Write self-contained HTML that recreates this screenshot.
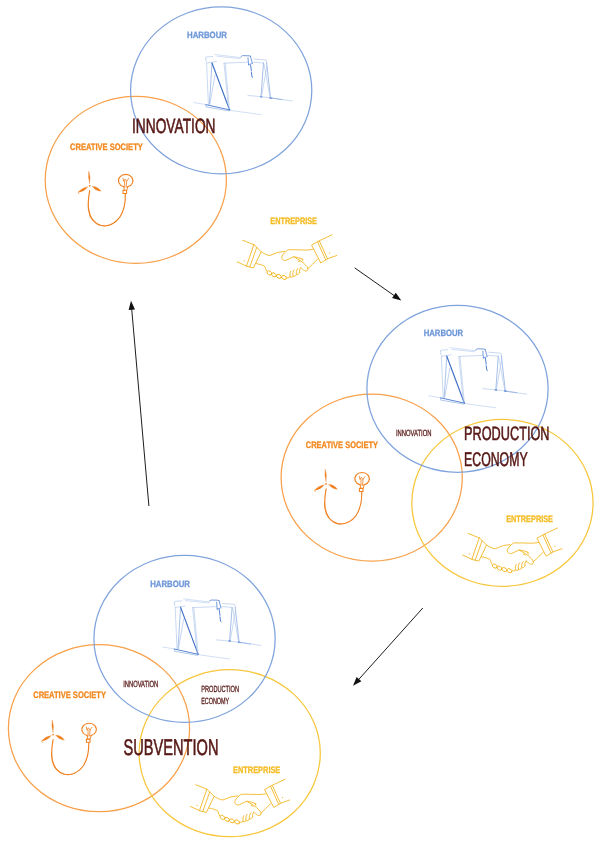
<!DOCTYPE html>
<html><head><meta charset="utf-8"><title>Diagram</title>
<style>
html,body{margin:0;padding:0;background:#fff;}
body{width:600px;height:845px;overflow:hidden;}
svg{display:block;font-family:"Liberation Sans",sans-serif;text-rendering:geometricPrecision;}
</style></head><body>
<svg width="600" height="845" viewBox="0 0 600 845">
<rect width="600" height="845" fill="#ffffff"/>
<defs>
<filter id="nof" x="0" y="0" width="600" height="845" filterUnits="userSpaceOnUse"><feOffset dx="0" dy="0"/></filter>
<g id="crane" fill="none" stroke="#a6bfea" stroke-width="0.6" stroke-linecap="round" stroke-linejoin="round">
<path d="M15.6,13.2 Q15.2,12 17,11.9 L23,11.5 M15.6,13.2 L16.2,16.5 M16.8,18 L26.5,16.6"/>
<path d="M25,9.5 L51,12.6 M27,11.2 L50,13.6" stroke="#b4c9ee"/>
<path d="M34,18.2 L57.5,17.2 M63,17.2 L73.5,18 M64,14 L76,15 L77,18"/>
<path d="M51,11.6 L52.6,10.6 L59,10.8 L60.4,11.2 M58,12.8 L58.6,20 M60.4,11.2 L62.4,18.6 M58.6,19.6 L61.4,18.8" stroke="#5f8ad4" stroke-width="0.85"/>
<path d="M60.6,20 L61.4,26 M61.4,27.4 L62,32 L62.6,32.4" stroke="#4a7bcf" stroke-width="0.95"/>
<path d="M16.6,18 L18.4,59.4"/>
<path d="M22,18 L19.4,59.2" stroke="#86a8e1" stroke-width="0.7"/>
<path d="M25,30 L19.9,59" stroke="#9ab7e7"/>
<path d="M22,18 L39.6,65" stroke="#3f6fc6" stroke-width="1.15"/>
<path d="M34,18.2 L38.6,64.4 M35.2,18.2 L39.4,63.6"/>
<path d="M15.6,59.6 L40,65" stroke="#4f7fd0" stroke-width="0.95"/>
<path d="M15.6,59.6 L16,61.9 L39,65.9" stroke="#7fa3de"/>
<path d="M4,57.6 L15,59.4 M40.4,65.4 L71,69.6" stroke="#b4c9ee"/>
<path d="M73.5,18 L71,51.5 M76.6,18 L80.5,52.6" stroke="#7fa3de" stroke-width="0.7"/>
<path d="M74,19 L80,52 M77,21 L71.6,51" stroke="#a6bfea"/>
<path d="M70.4,51.6 L71.8,51.8 M79.8,52.8 L81.6,53.2" stroke="#4a7bcf" stroke-width="1.3"/>
<path d="M58,50.5 L71,51.6 L80.5,52.8 L102,56" stroke="#a9c1ea"/>
<path d="M80.5,52.9 L92,54.6" stroke="#86a8e1" stroke-width="0.7"/>
</g>
<g id="turb" fill="none" stroke="#f07f1e" stroke-width="1.15" stroke-linecap="round" stroke-linejoin="round">
<path d="M19.6,23 Q17.8,17 18.8,11 Q20.9,17 19.6,23 Z" fill="#f07f1e" stroke-width="0.35"/>
<path d="M17.5,26.7 Q12.2,27.3 8.1,32 Q14.4,31.3 17.5,26.7 Z" fill="#f07f1e" stroke-width="0.35"/>
<path d="M8.1,32 L9.2,33.6" stroke-width="0.5"/>
<path d="M22.5,26.3 Q27.7,26.2 31,31 Q25.1,30.5 22.5,26.3 Z" fill="#f07f1e" stroke-width="0.35"/>
<circle cx="19.7" cy="25.6" r="0.85" fill="#f07f1e" stroke="none"/>
<path d="M19.7,30.5 C18.7,36 17.8,43 18.5,49.5 C19.5,57 23.5,63 31,65.3 C38.5,67 45.5,63 49.8,57 C53.6,51 55.6,43 55.3,34" stroke="#f0801f" stroke-width="1.15"/>
<path d="M18.3,44 C18.6,52 21,60 28,64.4 C35,67.4 43,64.6 48,59" stroke-width="0.6"/>
<path d="M53.8,26.6 A7.2,6.3 0 1 1 57.6,26.6" stroke-width="1.1"/>
<path d="M53.8,26.6 L54.3,29.8 M57.6,26.6 L57,29.8" stroke-width="0.9"/>
<rect x="53" y="30.1" width="3.6" height="3.2" stroke-width="1.05"/>
<path d="M53,18 L53.6,21.2 L55,18.8 L56.6,21.2 L58.6,18.2" stroke-width="0.8"/>
<path d="M54.6,21.2 L54.7,27 M56.6,21.2 L56.2,27" stroke-width="0.8"/>
</g>
<g id="hand"><g transform="translate(4,27) scale(0.18333)" fill="none" stroke="#f2b520" stroke-width="4.8" stroke-linecap="round" stroke-linejoin="round">
<path d="M48,45 L110,70"/>
<path d="M18,163 L70,187"/>
<path d="M110,70 L148,108 L106,196 L70,187 Z"/>
<path d="M124,84 L86,191"/>
<circle cx="55" cy="157" r="3.4" fill="#f2b520" stroke="none"/>
<path d="M148,108 C165,118 180,128 196,128 C212,124 224,114 240,111 C255,108 265,108 276,106"/>
<path d="M120,172 C140,176 155,180 166,186 C173,194 170,204 178,214"/>
<ellipse cx="193" cy="223" rx="14" ry="10" transform="rotate(30 193 223)"/>
<ellipse cx="218" cy="234" rx="14" ry="10" transform="rotate(30 218 234)"/>
<ellipse cx="245" cy="242" rx="14" ry="10" transform="rotate(30 245 242)"/>
<ellipse cx="273" cy="248" rx="14" ry="10" transform="rotate(30 273 248)"/>
<path d="M287,246 c6,6 14,6 19,-2"/>
<path d="M306,244 c-2,-10 -2,-22 4,-30 M322,240 c-2,-12 -2,-24 6,-34 M340,232 c-2,-12 0,-24 8,-34 M358,220 c-2,-10 0,-18 6,-26"/>
<path d="M306,244 c6,6 14,4 16,-4 c6,4 14,0 18,-8 c6,2 14,-2 18,-12"/>
<path d="M432,94 C410,98 395,99 380,98 C350,97 320,96 295,97 C280,108 268,120 262,132 C258,146 268,157 284,155 C298,150 310,140 326,135 C345,138 360,142 376,148"/>
<path d="M326,135 C350,150 375,162 392,182 C401,192 408,200 400,211 C390,218 378,206 364,196"/>
<path d="M350,158 l10,4 M372,150 l4,8"/>
<path d="M402,200 C420,186 438,166 456,148"/>
<path d="M425,70 L465,48 L510,146 L475,168 Z"/>
<path d="M456,54 L500,152"/>
<path d="M465,48 L535,15"/>
<path d="M510,146 L560,128"/>
<circle cx="521" cy="115" r="3.4" fill="#f2b520" stroke="none"/>
</g></g>
</defs>
<ellipse cx="135.8" cy="179.9" rx="90.6" ry="83.5" fill="none" stroke="#f8a04a" stroke-width="1.25"/>
<ellipse cx="221.2" cy="90.4" rx="90.6" ry="83.5" fill="none" stroke="#7fa3dc" stroke-width="1.25"/>
<ellipse cx="371.7" cy="477.6" rx="90.6" ry="83.5" fill="none" stroke="#f8a04a" stroke-width="1.25"/>
<ellipse cx="502.45" cy="502.9" rx="90.6" ry="83.5" fill="none" stroke="#f7c63a" stroke-width="1.25"/>
<ellipse cx="457.5" cy="388.75" rx="90.6" ry="83.5" fill="none" stroke="#7fa3dc" stroke-width="1.25"/>
<ellipse cx="99.0" cy="728.2" rx="90.6" ry="83.5" fill="none" stroke="#f8a04a" stroke-width="1.25"/>
<ellipse cx="229.7" cy="753.2" rx="90.6" ry="83.5" fill="none" stroke="#f7c63a" stroke-width="1.25"/>
<ellipse cx="184.55" cy="638.85" rx="90.6" ry="83.5" fill="none" stroke="#7fa3dc" stroke-width="1.25"/>
<use href="#crane" x="190.0" y="45.0"/>
<use href="#crane" x="424.8" y="338.2"/>
<use href="#crane" x="158.6" y="589.4"/>
<use href="#turb" x="70.0" y="160.2"/>
<use href="#turb" x="306.4" y="458.3"/>
<use href="#turb" x="33.4" y="709.0"/>
<use href="#hand" x="230.0" y="205.0"/>
<use href="#hand" x="455.4" y="498.2"/>
<use href="#hand" x="183.0" y="749.5"/>
<line x1="354.7" y1="267.9" x2="395.6" y2="296.6" stroke="#111" stroke-width="0.95"/><polygon points="401.3,300.6 392.1,298.0 395.8,292.8" fill="#111"/>
<line x1="148.9" y1="506.0" x2="131.6" y2="307.8" stroke="#111" stroke-width="0.95"/><polygon points="131.0,300.8 135.0,309.5 128.6,310.0" fill="#111"/>
<line x1="422.8" y1="608.0" x2="357.7" y2="680.6" stroke="#111" stroke-width="0.95"/><polygon points="353.0,685.8 356.6,677.0 361.4,681.2" fill="#111"/>
<g filter="url(#nof)">
<text x="187" y="38" font-size="9.16" font-weight="bold" fill="#6e97d8" stroke="#6e97d8" stroke-width="0.3" textLength="40.0" lengthAdjust="spacingAndGlyphs">HARBOUR</text>
<text x="132" y="132.5" font-size="20.64" font-weight="normal" fill="#561815" stroke="#561815" stroke-width="0.6" textLength="83.5" lengthAdjust="spacingAndGlyphs">INNOVATION</text>
<text x="70" y="150" font-size="9.30" font-weight="bold" fill="#f28a22" stroke="#f28a22" stroke-width="0.3" textLength="72.8" lengthAdjust="spacingAndGlyphs">CREATIVE SOCIETY</text>
<text x="270.3" y="224" font-size="9.30" font-weight="bold" fill="#f4bb22" stroke="#f4bb22" stroke-width="0.3" textLength="46.7" lengthAdjust="spacingAndGlyphs">ENTREPRISE</text>
<text x="423.7" y="335.7" font-size="9.16" font-weight="bold" fill="#6e97d8" stroke="#6e97d8" stroke-width="0.3" textLength="39.4" lengthAdjust="spacingAndGlyphs">HARBOUR</text>
<text x="305.8" y="448" font-size="9.30" font-weight="bold" fill="#f28a22" stroke="#f28a22" stroke-width="0.3" textLength="72.2" lengthAdjust="spacingAndGlyphs">CREATIVE SOCIETY</text>
<text x="396" y="435.8" font-size="9.01" font-weight="normal" fill="#561815" stroke="#561815" stroke-width="0.3" textLength="35.5" lengthAdjust="spacingAndGlyphs">INNOVATION</text>
<text x="464.1" y="440.4" font-size="19.33" font-weight="normal" fill="#561815" stroke="#561815" stroke-width="0.6" textLength="85.4" lengthAdjust="spacingAndGlyphs">PRODUCTION</text>
<text x="464.1" y="466.3" font-size="19.77" font-weight="normal" fill="#561815" stroke="#561815" stroke-width="0.6" textLength="63.5" lengthAdjust="spacingAndGlyphs">ECONOMY</text>
<text x="506.2" y="521.9" font-size="9.30" font-weight="bold" fill="#f4bb22" stroke="#f4bb22" stroke-width="0.3" textLength="46.8" lengthAdjust="spacingAndGlyphs">ENTREPRISE</text>
<text x="150.2" y="586.5" font-size="9.16" font-weight="bold" fill="#6e97d8" stroke="#6e97d8" stroke-width="0.3" textLength="39.8" lengthAdjust="spacingAndGlyphs">HARBOUR</text>
<text x="33.2" y="698.3" font-size="9.30" font-weight="bold" fill="#f28a22" stroke="#f28a22" stroke-width="0.3" textLength="72.8" lengthAdjust="spacingAndGlyphs">CREATIVE SOCIETY</text>
<text x="123.2" y="686.9" font-size="9.01" font-weight="normal" fill="#561815" stroke="#561815" stroke-width="0.3" textLength="35.1" lengthAdjust="spacingAndGlyphs">INNOVATION</text>
<text x="201.2" y="692.3" font-size="9.01" font-weight="normal" fill="#561815" stroke="#561815" stroke-width="0.3" textLength="37.8" lengthAdjust="spacingAndGlyphs">PRODUCTION</text>
<text x="201.2" y="703.8" font-size="9.01" font-weight="normal" fill="#561815" stroke="#561815" stroke-width="0.3" textLength="28.0" lengthAdjust="spacingAndGlyphs">ECONOMY</text>
<text x="123.6" y="755.3" font-size="22.67" font-weight="normal" fill="#561815" stroke="#561815" stroke-width="0.6" textLength="94.9" lengthAdjust="spacingAndGlyphs">SUBVENTION</text>
<text x="233.1" y="772.6" font-size="9.30" font-weight="bold" fill="#f4bb22" stroke="#f4bb22" stroke-width="0.3" textLength="47.2" lengthAdjust="spacingAndGlyphs">ENTREPRISE</text>
</g>
</svg>
</body></html>
